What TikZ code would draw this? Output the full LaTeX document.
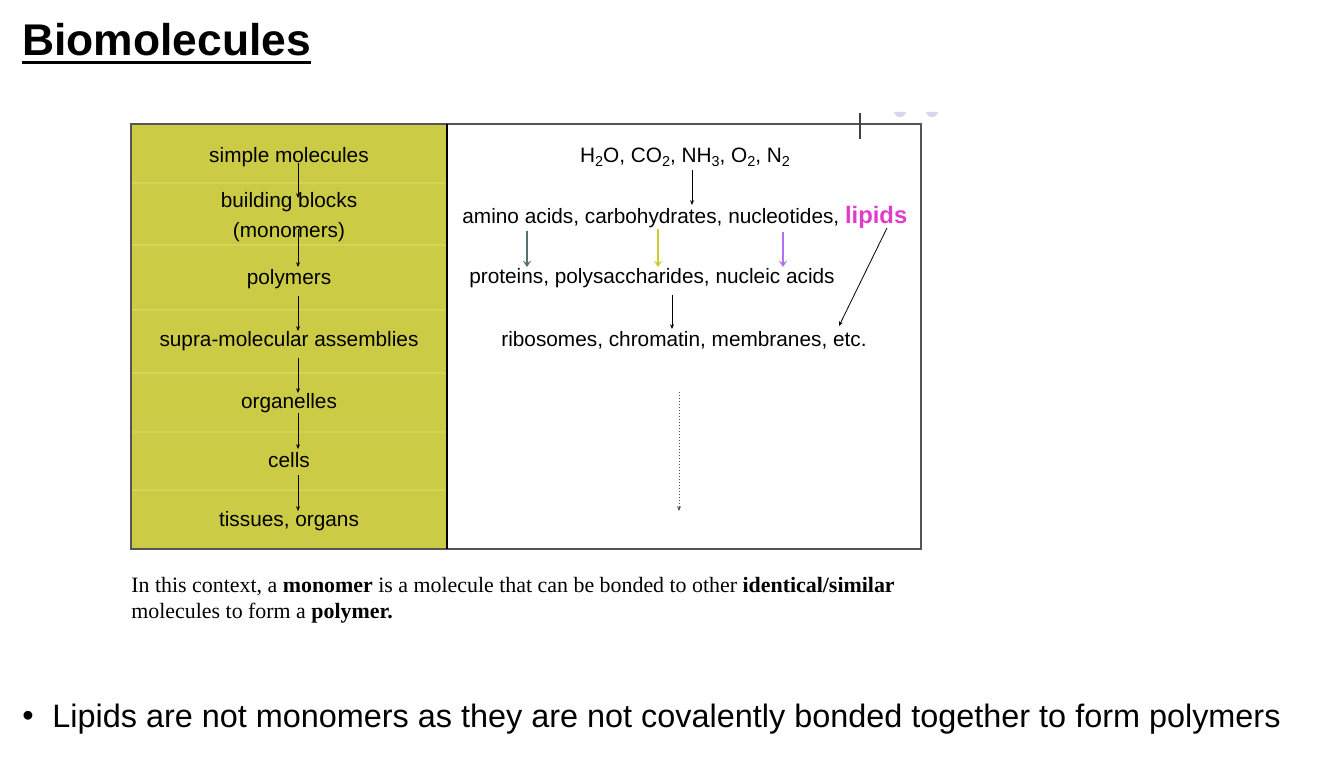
\documentclass[tikz,border=0pt]{standalone}
\usepackage{fontspec}
\setmainfont{Liberation Sans}
\newfontfamily\serifrm{Liberation Serif}
\usetikzlibrary{arrows.meta}
\definecolor{panelolive}{RGB}{204,203,69}
\definecolor{bandline}{RGB}{214,212,88}
\definecolor{framegray}{RGB}{85,85,85}
\definecolor{arrteal}{RGB}{85,112,112}
\definecolor{arryellow}{RGB}{205,205,50}
\definecolor{arrpurple}{RGB}{178,112,245}
\definecolor{lipidmag}{RGB}{224,60,200}
\definecolor{dotlav}{RGB}{214,214,238}
\newcommand{\mysb}[1]{\raisebox{-0.35ex}{\fontsize{7.2}{8}\selectfont #1}}
\tikzset{
  lbl/.style={inner sep=0pt, anchor=base, font=\fontsize{10.4}{12.5}\selectfont},
  flowarr/.style={-{Stealth[length=2.4pt,width=2pt]}, line width=0.5pt, black},
  colarr/.style={-{Stealth[length=3.2pt,width=4.2pt,inset=1.4pt]}, line width=0.75pt},
}
\begin{document}
\begin{tikzpicture}[x=0.5pt,y=-0.5pt]
\useasboundingbox (0,0) rectangle (1334,769);
\fill[white] (0,0) rectangle (1334,769);

% title
\node[inner sep=0pt, anchor=west, font=\fontsize{22.2}{26}\selectfont\bfseries] (title) at (22,40) {Biomolecules};
\draw[line width=1.5pt] (title.south west |- 0,63) -- (title.south east |- 0,63);

% panel
\fill[panelolive] (131,124) rectangle (447,549);
\foreach \yy in {183,245,310,373,432,490}
  \draw[bandline, line width=0.6pt] (132,\yy) -- (446,\yy);
\draw[framegray, line width=0.7pt] (131,124) rectangle (921,549);
\draw[black, line width=0.6pt] (447,124) -- (447,549);

% top-right marks
\draw[black!75, line width=0.6pt] (860,113) -- (860,139);
\fill[dotlav] (906,112) arc[start angle=0, end angle=180, x radius=6, y radius=5] -- cycle;
\fill[dotlav] (938,112) arc[start angle=0, end angle=180, x radius=6, y radius=5] -- cycle;

% left column
\node[lbl] (sm) at (289,163) {simple molecules};
\node[lbl] (bb) at (289,208) {building blocks};
\node[lbl] (mo) at (289,238) {(monomers)};
\node[lbl] (po) at (289,285) {polymers};
\node[lbl] (sa) at (289,347) {supra-molecular assemblies};
\node[lbl] (og) at (289,409) {organelles};
\node[lbl] (ce) at (289,468) {cells};
\node[lbl] (ti) at (289,527) {tissues, organs};

\coordinate (a1s) at (298,163); \coordinate (a1e) at (298,198);
\coordinate (a2s) at (298,229); \coordinate (a2e) at (298,267);
\coordinate (a3s) at (298,296); \coordinate (a3e) at (298,331);
\coordinate (a4s) at (298,358); \coordinate (a4e) at (298,393);
\coordinate (a5s) at (298,413); \coordinate (a5e) at (298,449);
\coordinate (a6s) at (298,475); \coordinate (a6e) at (298,511);
\draw[flowarr] (a1s) -- (a1e);
\draw[flowarr] (a2s) -- (a2e);
\draw[flowarr] (a3s) -- (a3e);
\draw[flowarr] (a4s) -- (a4e);
\draw[flowarr] (a5s) -- (a5e);
\draw[flowarr] (a6s) -- (a6e);

% right column
\node[lbl] (gas) at (685,163) {H\mysb{2}O, CO\mysb{2}, NH\mysb{3}, O\mysb{2}, N\mysb{2}};
\node[lbl, anchor=base west] (mono) at (462,224) {amino acids, carbohydrates, nucleotides, \textcolor{lipidmag}{\fontsize{11.9}{14}\selectfont\bfseries lipids}};
\node[lbl] (poly) at (652,284) {proteins, polysaccharides, nucleic acids};
\node[lbl] (supra) at (684,347) {ribosomes, chromatin, membranes, etc.};

\coordinate (r1s) at (692,170); \coordinate (r1e) at (692,205);
\draw[flowarr] (r1s) -- (r1e);
\coordinate (t1s) at (527,231); \coordinate (t1e) at (527,267);
\draw[colarr, arrteal] (t1s) -- (t1e);
\coordinate (y1s) at (658,229); \coordinate (y1e) at (658,267);
\draw[colarr, arryellow] (y1s) -- (y1e);
\coordinate (p1s) at (783,232); \coordinate (p1e) at (783,267);
\draw[colarr, arrpurple] (p1s) -- (p1e);
\coordinate (r2s) at (672,295); \coordinate (r2e) at (672,329);
\draw[flowarr] (r2s) -- (r2e);
\coordinate (l1s) at (887,228); \coordinate (l1e) at (839,326);
\draw[-{Stealth[length=2.4pt,width=2pt]}, line width=0.4pt] (l1s) -- (l1e);
\coordinate (d1s) at (679,392); \coordinate (d1e) at (679,511);
\draw[-{Stealth[length=2.4pt,width=2pt]}, line width=0.5pt, densely dotted, black!70] (d1s) -- (d1e);

% definition text
\node[inner sep=0pt, anchor=base west, font=\serifrm\fontsize{10.95}{13}\selectfont] (def1) at (131,593) {In this context, a \textbf{monomer} is a molecule that can be bonded to other \textbf{identical/similar}};
\node[inner sep=0pt, anchor=base west, font=\serifrm\fontsize{10.95}{13}\selectfont] (def2) at (131,619) {molecules to form a \textbf{polymer.}};

% bullet
\node[inner sep=0pt, anchor=west, font=\fontsize{16.2}{19}\selectfont] (bul) at (22,719) {\textbullet};
\node[inner sep=0pt, anchor=west, font=\fontsize{16.2}{19}\selectfont] (btxt) at (52,719) {Lipids are not monomers as they are not covalently bonded together to form polymers};
\end{tikzpicture}
\end{document}
